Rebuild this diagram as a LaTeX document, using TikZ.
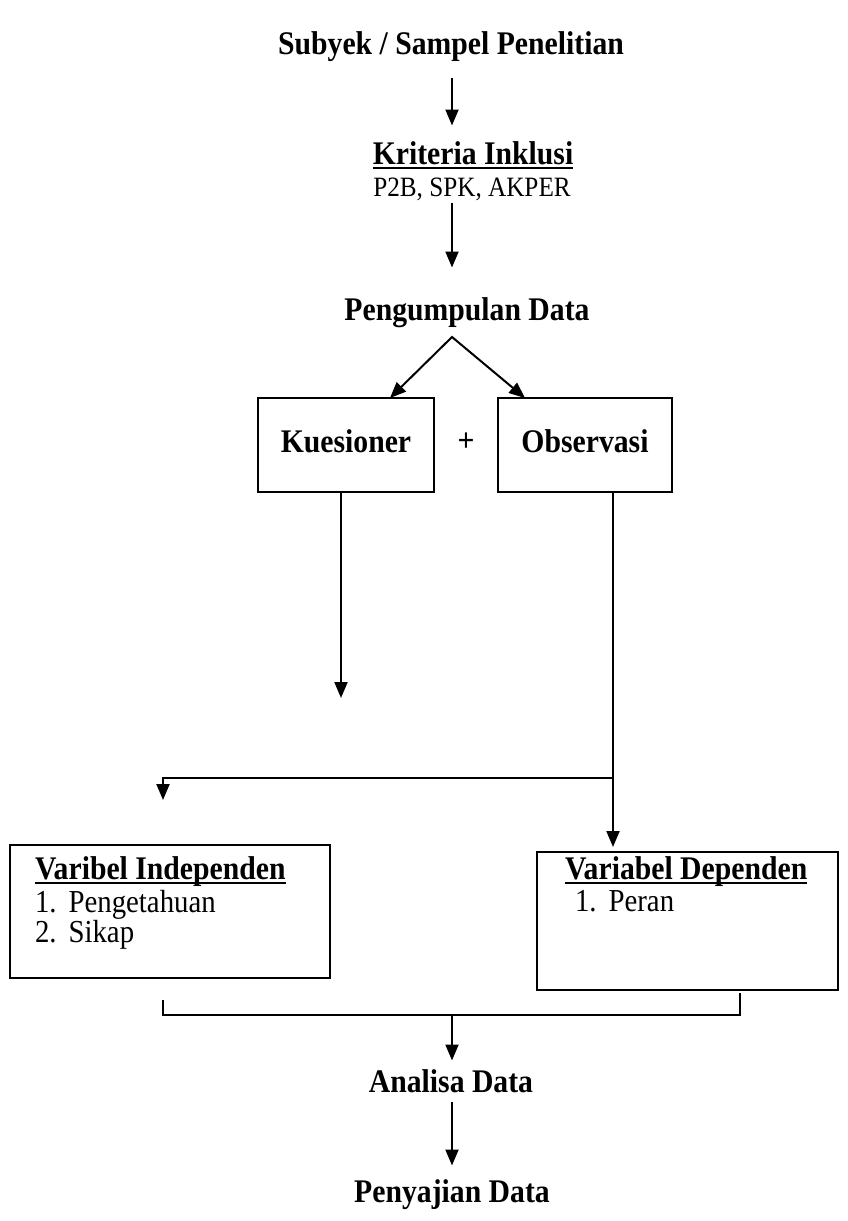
\documentclass[tikz,border=0pt]{standalone}
\usepackage{fontspec}
\setmainfont{Liberation Serif}[FakeStretch=0.9]
\usetikzlibrary{
  positioning,  % texts placed inside the variable boxes
  arrows.meta   % filled triangle tips
}
% thick underline as in the scan
\newcommand{\undl}[1]{\leavevmode\setbox0=\hbox{#1}\rlap{\rule[-4pt]{\wd0}{1.8pt}}\box0}
\tikzset{
  x=1pt, y=-1pt,
  every node/.style = {inner sep=0pt, outer sep=0pt},
  heading/.style = {font=\fontsize{33}{38}\selectfont\bfseries, text height=22pt, text depth=7pt},
  sublabel/.style = {font=\fontsize{28}{30}\selectfont, text height=19pt, text depth=4pt},
  stagebox/.style = {draw, line width=2pt, minimum height=94pt},
  varbox/.style = {draw, line width=2pt, anchor=north west},
  vartext/.style = {font=\fontsize{32}{29}\selectfont, align=left, anchor=north west},
  vartitle/.style = {font=\fontsize{33}{38}\selectfont\bfseries, anchor=north west},
  link/.style = {line width=2pt},
  flow/.style = {link, -{Triangle[length=16pt,width=13pt]}}
}

\begin{document}
\begin{tikzpicture}
\useasboundingbox (0,0) rectangle (847,1221);
\coordinate (spine) at (452,0);

% top of the flow
\node[heading] (subyek) at (451,47) {Subyek / Sampel Penelitian};
\node[heading] (kriteria) at (473,157) {\undl{Kriteria Inklusi}};
\node[sublabel] (syarat) at (472,189) {P2B, SPK, AKPER};
\node[heading] (kumpul) at (467,313) {Pengumpulan Data};
\coordinate (apex) at (452,337);

% instruments
\node[stagebox, heading, minimum width=176pt] (kues) at (346,445) {Kuesioner};
\node[stagebox, heading, minimum width=174pt] (obs) at (585,445) {Observasi};
\node[heading] (plus) at (466,444) {+};

% variables
\node[varbox, minimum width=320pt, minimum height=133pt] (indep) at (10,845) {};
\node[vartitle, below right=12pt and 25pt of indep.north west] (indeptitle)
  {\undl{Varibel Independen}};
\node[vartext, below right=3pt and 0pt of indeptitle.south west] (indeplist)
  {1.\hspace{12pt}Pengetahuan\\2.\hspace{12pt}Sikap};
\node[varbox, minimum width=301pt, minimum height=138pt] (dep) at (537,852) {};
\node[vartitle, below right=5pt and 28pt of dep.north west] (deptitle)
  {\undl{Variabel Dependen}};
\node[vartext, below right=3pt and 10pt of deptitle.south west] (deplist)
  {1.\hspace{12pt}Peran};

% end of the flow
\node[heading] (analisa) at (451,1085) {Analisa Data};
\node[heading] (sajian) at (452,1195) {Penyajian Data};

\coordinate (kuesend) at (341,698);
\coordinate (junc) at (613,778);
\coordinate (brkl) at (163,1015);
\coordinate (brkr) at (740,1015);

% connectors
\draw[flow, shorten <=16pt, shorten >=17pt] (spine |- subyek.south) -- (spine |- kriteria.north);
\draw[flow, shorten <=2pt, shorten >=31pt] (spine |- syarat.south) -- (spine |- kumpul.north);
\draw[link, {Triangle[length=16pt,width=13pt]}-{Triangle[length=16pt,width=13pt]}]
  ([xshift=44pt]kues.north) -- (apex) -- ([xshift=-60pt]obs.north);
\draw[flow] (kues.south -| kuesend) -- (kuesend);
\draw[flow, shorten >=5pt] (obs.south -| junc) -- (junc |- dep.north);
\draw[flow, shorten >=45pt] (junc) -| ([xshift=-7pt]indep.north);
\draw[link, shorten <=22pt, shorten >=3pt] (brkl |- indep.south) -- (brkl) -- (brkr) -- (brkr |- dep.south);
\draw[flow, shorten >=10pt] (spine |- brkl) -- (spine |- analisa.north);
\draw[flow, shorten <=2pt, shorten >=15pt] (spine |- analisa.south) -- (spine |- sajian.north);
\end{tikzpicture}
\end{document}
